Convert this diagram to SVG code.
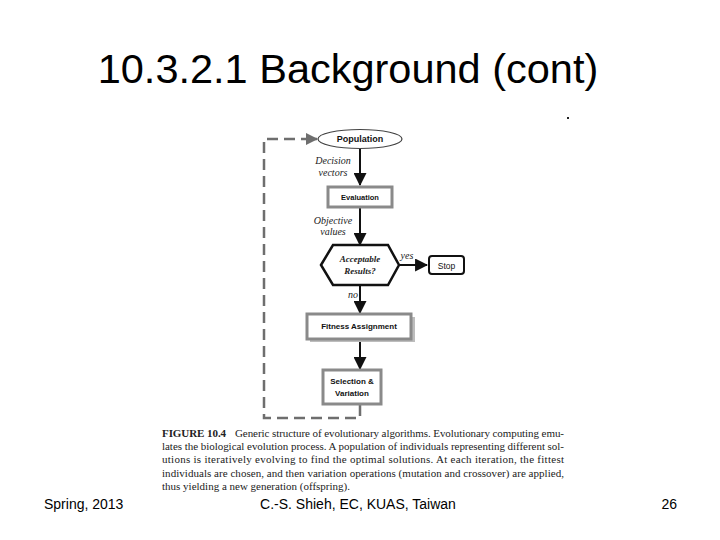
<svg xmlns="http://www.w3.org/2000/svg" width="720" height="540" viewBox="0 0 720 540">
<style>
.title{font-family:"Liberation Sans",Arial,sans-serif;font-size:41.5px;fill:#000}
.foot{font-family:"Liberation Sans",Arial,sans-serif;font-size:14px;fill:#000}
.lbl{font-family:"Liberation Sans",Arial,sans-serif;font-weight:bold;font-size:8.5px;fill:#111;text-anchor:middle}
.it{font-family:"Liberation Serif","Times New Roman",serif;font-style:italic;font-size:10px;fill:#222;text-anchor:middle}
.cap{font-family:"Liberation Serif","Times New Roman",serif;font-size:11px;fill:#222}
.gbox{fill:#fff;stroke:#8a8a8a;stroke-width:3}
.arrow{stroke:#111;stroke-width:2;fill:none}
.dash{stroke:#6e6e6e;stroke-width:2.5;fill:none;stroke-dasharray:11,6}
</style>
<defs>
<marker id="ah" viewBox="0 0 12 12" refX="11" refY="6" markerWidth="6.5" markerHeight="6.5" orient="auto" markerUnits="strokeWidth">
<path d="M0,0 L12,6 L0,12 z" fill="#111"/>
</marker>
<marker id="ahg" viewBox="0 0 12 12" refX="11" refY="6" markerWidth="5" markerHeight="5" orient="auto" markerUnits="strokeWidth">
<path d="M0,0 L12,6 L0,12 z" fill="#6e6e6e"/>
</marker>
</defs>
<rect width="720" height="540" fill="#fff"/>
<text class="title" x="348" y="83" text-anchor="middle">10.3.2.1 Background (cont)</text>
<rect x="567" y="117" width="2" height="2" fill="#222"/>

<g id="connectors">
<line class="arrow" x1="360" y1="148" x2="360" y2="185" marker-end="url(#ah)"/>
<line class="arrow" x1="360" y1="208" x2="360" y2="245" marker-end="url(#ah)"/>
<line class="arrow" x1="360" y1="285" x2="360" y2="313" marker-end="url(#ah)"/>
<line class="arrow" x1="360" y1="342" x2="360" y2="369" marker-end="url(#ah)"/>
<line class="arrow" x1="399" y1="265" x2="427" y2="265" marker-end="url(#ah)"/>
<path class="dash" d="M360,405 L360,418 L264,418 L264,139 L303,139"/>
<line stroke="#6e6e6e" stroke-width="2.5" x1="303" y1="139" x2="317" y2="139" marker-end="url(#ahg)"/>
<text class="it" x="333" y="164">Decision</text>
<text class="it" x="333" y="176">vectors</text>
<text class="it" x="333" y="224">Objective</text>
<text class="it" x="333" y="235">values</text>
<text class="it" x="407" y="259">yes</text>
<text class="it" x="353" y="298">no</text>
</g>

<g id="population">
<ellipse cx="360" cy="139" rx="42" ry="9.5" fill="#fff" stroke="#444" stroke-width="1.2"/>
<text class="lbl" x="360" y="142" style="font-size:9px">Population</text>
</g>
<g id="evaluation">
<rect class="gbox" x="328" y="187" width="64" height="20"/>
<text class="lbl" x="360" y="200" style="font-size:7.5px">Evaluation</text>
</g>
<g id="acceptable">
<polygon points="321,265 333,245 388,245 399,265 388,285 333,285" fill="#fff" stroke="#111" stroke-width="2.5"/>
<text class="it" x="360" y="262" style="font-weight:bold;font-size:9px">Acceptable</text>
<text class="it" x="360" y="274" style="font-weight:bold;font-size:9px">Results?</text>
</g>
<g id="stop">
<rect x="429" y="256" width="35" height="18" rx="3" fill="#fff" stroke="#111" stroke-width="2"/>
<text x="446.5" y="268.5" style="font-family:'Liberation Sans',Arial,sans-serif;font-size:8.5px;fill:#111;text-anchor:middle">Stop</text>
</g>
<g id="fitness">
<rect x="310" y="317" width="105" height="25" fill="#bdbdbd"/>
<rect class="gbox" x="307" y="314" width="104" height="25"/>
<text class="lbl" x="359" y="329" style="font-size:8px">Fitness Assignment</text>
</g>
<g id="selection">
<rect class="gbox" x="323" y="370" width="58" height="34"/>
<text class="lbl" x="352" y="384" style="font-size:8px">Selection &amp;</text>
<text class="lbl" x="352" y="396" style="font-size:8px">Variation</text>
</g>

<g id="caption">
<text class="cap" x="162" y="437" textLength="402" lengthAdjust="spacing"><tspan font-weight="bold">FIGURE 10.4</tspan><tspan dx="9">Generic structure of evolutionary algorithms. Evolutionary computing emu-</tspan></text>
<text class="cap" x="162" y="450" textLength="402" lengthAdjust="spacing">lates the biological evolution process. A population of individuals representing different sol-</text>
<text class="cap" x="162" y="463" textLength="402" lengthAdjust="spacing">utions is iteratively evolving to find the optimal solutions. At each iteration, the fittest</text>
<text class="cap" x="162" y="477" textLength="402" lengthAdjust="spacing">individuals are chosen, and then variation operations (mutation and crossover) are applied,</text>
<text class="cap" x="162" y="490">thus yielding a new generation (offspring).</text>
</g>

<text class="foot" x="44" y="509">Spring, 2013</text>
<text class="foot" x="358" y="509" text-anchor="middle">C.-S. Shieh, EC, KUAS, Taiwan</text>
<text class="foot" x="677" y="509" text-anchor="end">26</text>
</svg>
